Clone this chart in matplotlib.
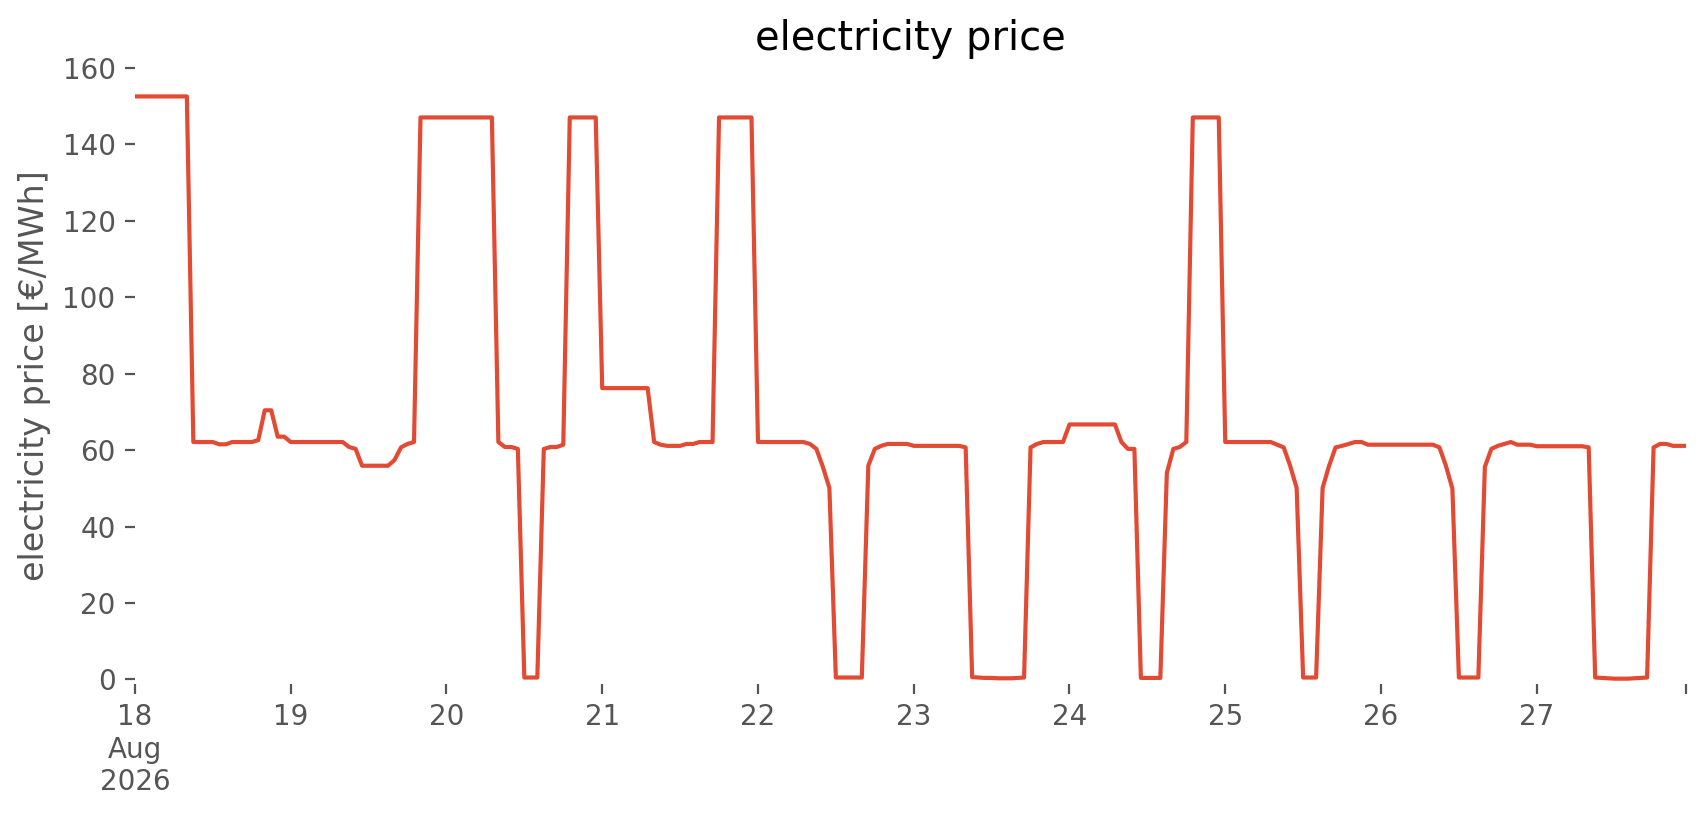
import matplotlib
matplotlib.use("Agg")
import matplotlib.pyplot as plt
import numpy as np
import pandas as pd

# hourly electricity price [€/MWh], one list per day (Aug 18 .. Aug 27, 2026)
aug18 = [152.5]*9 + [62.1]*4 + [61.5]*2 + [62.1]*4 + [62.6, 70.4, 70.4, 63.5, 63.5]
aug19 = [62.1]*9 + [60.8, 60.3] + [55.9]*5 + [57.4, 60.7, 61.6, 62.1] + [147.0]*4
aug20 = [147.0]*8 + [62.1, 60.8, 60.8, 60.3] + [0.5]*3 + [60.3, 60.8, 60.8, 61.4] + [147.0]*5
aug21 = [76.2]*8 + [62.1, 61.4, 61.1, 61.1, 61.1, 61.6, 61.6, 62.1, 62.1, 62.1] + [147.0]*6
aug22 = [62.1]*8 + [61.6, 60.3, 55.6, 50.1] + [0.5]*5 + [55.9, 60.3, 61.1] + [61.6]*4
aug23 = [61.1]*8 + [60.7] + [0.6, 0.5, 0.4, 0.4, 0.3, 0.3, 0.3, 0.4, 0.5] + [60.7, 61.6] + [62.1]*4
aug24 = [66.7]*8 + [62.1, 60.3, 60.3] + [0.4]*4 + [54.0, 60.3, 60.8, 62.1] + [147.0]*5
aug25 = [62.1]*8 + [61.4, 60.7, 55.9, 50.1] + [0.5]*3 + [50.1, 55.9, 60.7, 61.1, 61.6, 62.1, 62.1, 61.4, 61.4]
aug26 = [61.4]*9 + [60.7, 55.9, 49.9] + [0.5]*4 + [55.6, 60.3, 61.1, 61.6, 62.1, 61.4, 61.4, 61.4]
aug27 = [61.0]*8 + [60.7] + [0.5, 0.4, 0.3, 0.2, 0.2, 0.2, 0.3, 0.4, 0.5] + [60.7, 61.6, 61.6, 61.1, 61.1, 61.1]

days = [aug18, aug19, aug20, aug21, aug22, aug23, aug24, aug25, aug26, aug27]
price = np.concatenate([np.array(d, dtype=float) for d in days])
times = pd.date_range("2026-08-18 00:00", periods=len(price), freq="h")

day_ticks = pd.date_range("2026-08-18", periods=10, freq="D")
day_labels = ["18\nAug\n2026"] + [str(d.day) for d in day_ticks[1:]]

plt.style.use("ggplot")
fig = plt.figure(figsize=(8.53, 4.075), dpi=200)
ax = fig.add_axes([0.0791, 0.1607, 0.9092, 0.7571])
ax.set_facecolor("white")
ax.grid(False)

ax.plot(times, price, color="#E24A33", linewidth=1.5)

ax.set_xlim(times[0], times[-1])
ax.set_ylim(-1.2, 160.2)
ax.set_yticks(np.arange(0, 161, 20))

tick_pos = list(day_ticks) + [times[-1]]
tick_lab = day_labels + [""]
ax.set_xticks(tick_pos)
ax.set_xticklabels(tick_lab)
ax.tick_params(axis="x", which="minor", length=0)

ax.set_title("electricity price", color="black")
ax.set_ylabel("electricity price [€/MWh]")
ax.set_xlabel("")

for s in ax.spines.values():
    s.set_visible(False)

fig.savefig("out.png", dpi=200, facecolor="white")
